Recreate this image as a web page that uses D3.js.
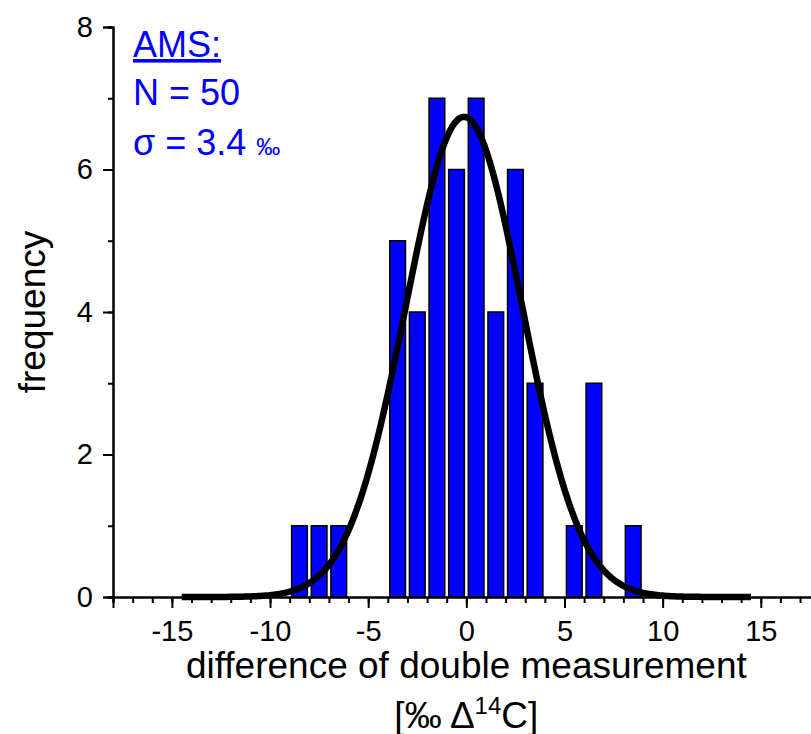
<!DOCTYPE html>
<html>
<head>
<meta charset="utf-8">
<script src="https://cdn.jsdelivr.net/npm/d3@7"></script>
<style>
  body { margin: 0; background: #fff; }
  svg { display: block; font-family: "Liberation Sans", Arial, sans-serif; }
</style>
</head>
<body>
<svg id="chart" width="811" height="734"></svg>
<script>
// histogram bins (centres, width 1) and counts
const binCenters = [-8.5, -7.5, -6.5, -3.5, -2.5, -1.5, -0.5, 0.5, 1.5, 2.5, 3.5, 5.5, 6.5, 8.5];
const binCounts  = [1, 1, 1, 5, 4, 7, 6, 7, 4, 6, 3, 1, 3, 1];
const xMajorTicks = [-15, -10, -5, 0, 5, 10, 15];
const yMajorTicks = [0, 2, 4, 6, 8];
// gaussian fit
const fitMean = -0.12;
const fitSigma = 2.96;
const fitArea = 50;
const fitRange = [-14.5, 14.5];

const svg = d3.select("#chart");
const x = d3.scaleLinear().domain([-18, 18]).range([113, 113 + 36 * 19.63]);
const y = d3.scaleLinear().domain([0, 8]).range([597, 27]);
const barW = 0.8;

// bars
svg.selectAll("rect.bar").data(binCenters).enter().append("rect")
    .attr("class", "bar")
    .attr("x", (d) => x(d - barW / 2))
    .attr("width", x(barW) - x(0))
    .attr("y", (d, i) => y(binCounts[i]))
    .attr("height", (d, i) => y(0) - y(binCounts[i]))
    .attr("fill", "#0000ff").attr("stroke", "#000").attr("stroke-width", 1.5);

// fit curve
const gauss = v => fitArea / (fitSigma * Math.sqrt(2 * Math.PI)) * Math.exp(-((v - fitMean) ** 2) / (2 * fitSigma * fitSigma));
const xs = d3.range(fitRange[0], fitRange[1] + 0.001, 0.1);
svg.append("path")
    .attr("d", d3.line().x(d => x(d)).y(d => y(gauss(d)))(xs))
    .attr("fill", "none").attr("stroke", "#000").attr("stroke-width", 6.5)
    .attr("stroke-linejoin", "round");

const plain = d => String(d);

// x axis
const xAxis = svg.append("g").attr("transform", `translate(0,${y(0)})`);
xAxis.call(d3.axisBottom(x).tickValues(d3.range(-18, 19, 1)).tickSize(6).tickFormat(""));
xAxis.append("g").call(d3.axisBottom(x).tickValues(xMajorTicks).tickSize(11).tickPadding(12).tickFormat(plain));
xAxis.selectAll(".domain").attr("stroke-width", 2);
xAxis.selectAll(".tick line").attr("stroke-width", 2);
xAxis.selectAll("text").attr("font-size", 29).attr("fill", "#000").attr("font-family", "Liberation Sans, Arial, sans-serif");

// y axis
const yAxis = svg.append("g").attr("transform", `translate(${x(-18)},0)`);
yAxis.call(d3.axisLeft(y).tickValues(d3.range(0, 9, 1)).tickSize(5).tickFormat(""));
yAxis.append("g").call(d3.axisLeft(y).tickValues(yMajorTicks).tickSize(10).tickPadding(10).tickFormat(plain));
yAxis.selectAll(".domain").attr("stroke-width", 2);
yAxis.selectAll(".tick line").attr("stroke-width", 2);
yAxis.selectAll("text").attr("font-size", 29).attr("fill", "#000").attr("font-family", "Liberation Sans, Arial, sans-serif");

// axis titles
svg.append("text")
    .attr("x", x(0)).attr("y", 678)
    .attr("text-anchor", "middle").attr("font-size", 37)
    .text("difference of double measurement");

const unit = svg.append("text")
    .attr("x", x(0)).attr("y", 728)
    .attr("text-anchor", "middle").attr("font-size", 37);
unit.append("tspan").text("[‰ Δ");
unit.append("tspan").attr("font-size", 24).attr("dy", -14).text("14");
unit.append("tspan").attr("dy", 14).text("C]");

svg.append("text")
    .attr("transform", "translate(45,312) rotate(-90)")
    .attr("text-anchor", "middle").attr("font-size", 37)
    .text("frequency");

// annotation
const note = svg.append("g").attr("fill", "#0000ff").attr("font-size", 36);
note.append("text").attr("x", 133).attr("y", 57)
    .attr("text-decoration", "underline").text("AMS:");
note.append("text").attr("x", 133).attr("y", 105).text("N = 50");
const sig = note.append("text").attr("x", 133).attr("y", 155);
sig.append("tspan").text("σ = 3.4 ");
sig.append("tspan").attr("font-size", 24).text("‰");
</script>
</body>
</html>
